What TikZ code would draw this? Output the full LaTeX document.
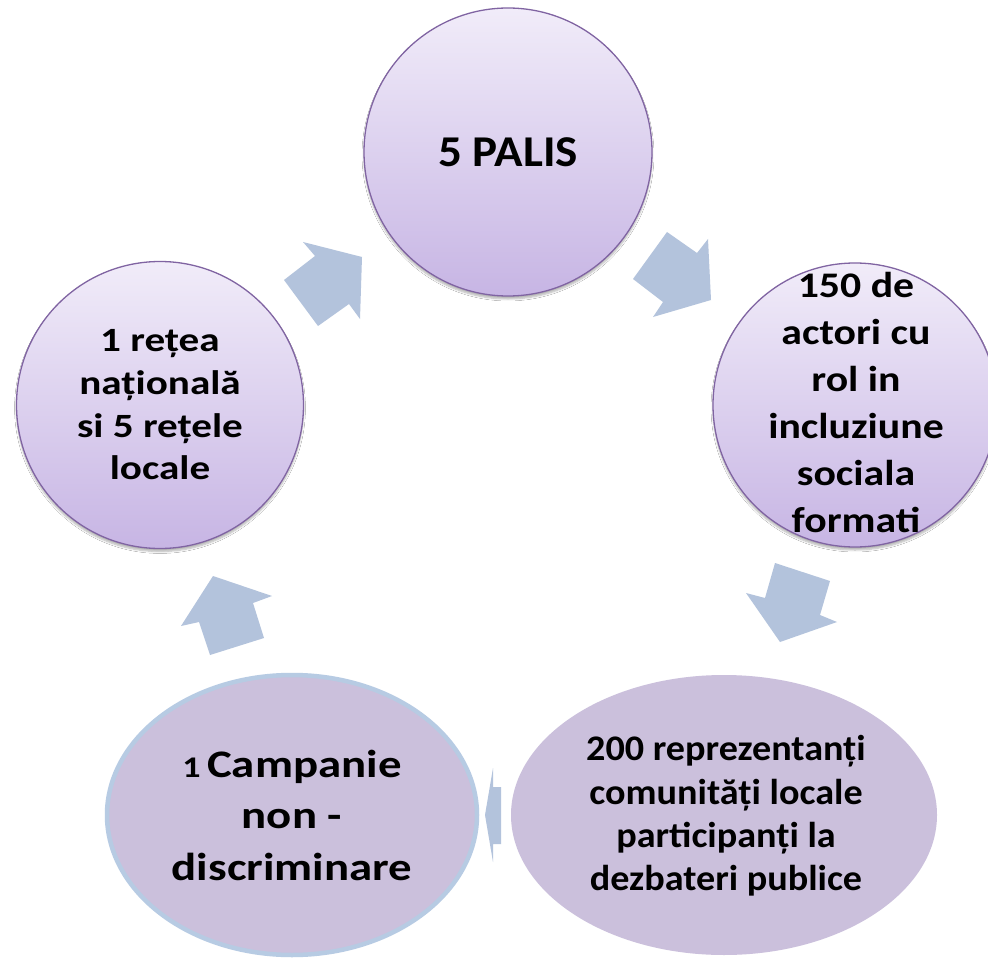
\documentclass[tikz,border=0pt]{standalone}
\usepackage{fontspec}
\setmainfont{Carlito}
\newfontfamily\fTop[FakeStretch=1.07]{Carlito}
\newfontfamily\fLeft[FakeStretch=1.21]{Carlito}
\newfontfamily\fRight[FakeStretch=1.16]{Carlito}
\newfontfamily\fBR[FakeStretch=1.06]{Carlito}
\newfontfamily\fBL[FakeStretch=1.2]{Carlito}
\usetikzlibrary{shadows.blur,shapes.geometric}
\definecolor{circtop}{RGB}{241,236,249}
\definecolor{circbot}{RGB}{199,181,228}
\definecolor{circline}{RGB}{128,100,162}
\definecolor{ellfill}{RGB}{203,192,220}
\definecolor{ellline}{RGB}{183,203,227}
\definecolor{arrowfill}{RGB}{179,195,220}
\tikzset{
  bubble/.style={circle, draw=circline, line width=1.3pt, top color=circtop, bottom color=circbot,
    inner sep=0pt, blur shadow={shadow xshift=0pt, shadow yshift=-3pt, shadow blur steps=6, shadow opacity=30}},
  flatell/.style={ellipse, fill=ellfill, inner sep=0pt},
  label/.style={align=center, inner sep=0pt, text=black},
  blockarrow/.style={fill=arrowfill}
}
\begin{document}
\begin{tikzpicture}[x=1pt,y=-1pt]
\useasboundingbox (0,0) rectangle (988,960);
\clip (0,0) rectangle (988,960);
\fill[white] (0,0) rectangle (988,960);
% circles
\node[bubble, minimum size=288pt] (top) at (508,152) {};
\node[bubble, minimum size=287pt] (left) at (160,405) {};
\node[bubble, minimum size=284pt] (right) at (855,405) {};
% ellipses
\node[flatell, minimum width=426pt, minimum height=280pt] (bright) at (724,815) {};
\node[flatell, draw=ellline, line width=4.5pt, minimum width=370pt, minimum height=280pt] (bleft) at (292,815) {};
% arrows
\fill[blockarrow] (284,280) -- (315,256) -- (303,242) -- (362,257) -- (360,319) -- (349,304) -- (318,326) -- cycle;
\fill[blockarrow] (667,232) -- (697,253) -- (708,239) -- (711,300) -- (653,317) -- (663,302) -- (633,279) -- cycle;
\fill[blockarrow] (775,563) -- (830,581) -- (820,615) -- (837,622) -- (780,642) -- (746,593) -- (765,598) -- cycle;
\fill[blockarrow] (501,787) -- (501,844) -- (493,844) -- (493,862) -- (485,815) -- (493,768) -- (493,787) -- cycle;
\fill[blockarrow] (264,638) -- (210,655) -- (199,622) -- (181,626) -- (213,576) -- (272,596) -- (253,603) -- cycle;
% texts
\node[label, font=\fTop\bfseries\fontsize{44}{52}\selectfont] (ttop) at (508,152) {5 PALIS};
\node[label, font=\fLeft\bfseries\fontsize{34}{42.7}\selectfont] (tleft) at (160,405) {1 rețea\\națională\\si 5 rețele\\locale};
\node[label, font=\fRight\bfseries\fontsize{36}{47}\selectfont] (tright) at (856,402) {150 de\\actori cu\\rol in\\incluziune\\sociala\\formati};
\node[label, font=\fBR\bfseries\fontsize{36}{43.3}\selectfont] (tbright) at (726,816) {200 reprezentanți\\comunități locale\\participanți la\\dezbateri publice};
\node[label, font=\fBL\bfseries\fontsize{39}{51.5}\selectfont] (tbleft) at (292,815) {{\fontsize{30}{30}\selectfont 1}\,Campanie\\non -\\discriminare};
\end{tikzpicture}
\end{document}
